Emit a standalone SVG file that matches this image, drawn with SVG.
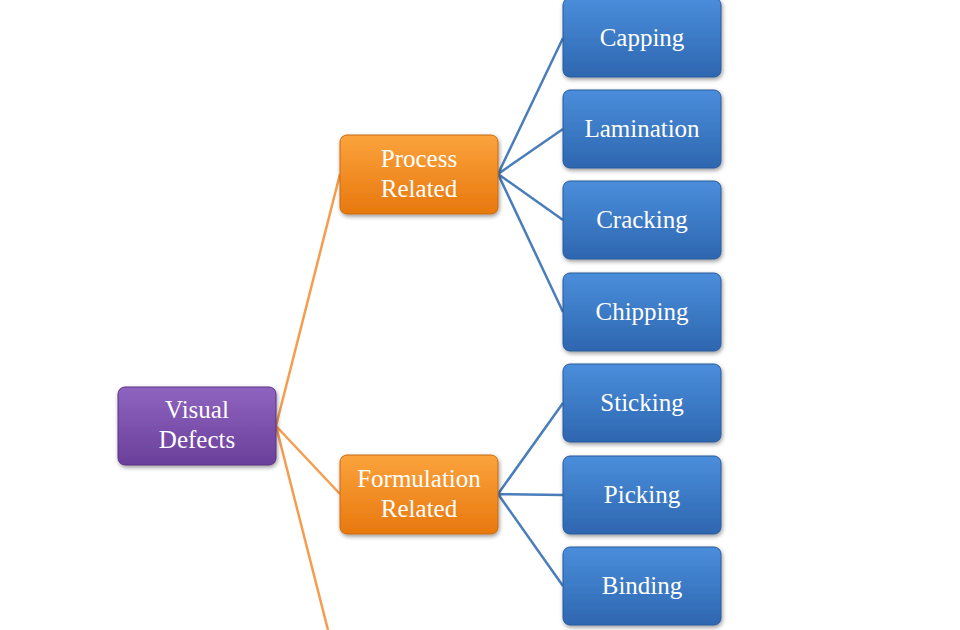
<svg xmlns="http://www.w3.org/2000/svg" width="960" height="630" viewBox="0 0 960 630">
<style>
text{font-family:"Liberation Serif","Times New Roman",serif;font-size:25px;fill:#fff;text-anchor:middle}
.o{stroke:#F59D4E;stroke-width:2.5;fill:none}
.b{stroke:#4A7EBB;stroke-width:2.5;fill:none}
rect{stroke-width:1;filter:url(#sh)}
</style>
<defs>
<linearGradient id="gp" x1="0" y1="0" x2="0" y2="1"><stop offset="0" stop-color="#8E64C0"/><stop offset="1" stop-color="#6A3F9A"/></linearGradient>
<linearGradient id="go" x1="0" y1="0" x2="0" y2="1"><stop offset="0" stop-color="#FBA33C"/><stop offset="1" stop-color="#E8780E"/></linearGradient>
<linearGradient id="gb" x1="0" y1="0" x2="0" y2="1"><stop offset="0" stop-color="#4A8EDB"/><stop offset="1" stop-color="#2E66B0"/></linearGradient>
<filter id="sh" x="-10%" y="-10%" width="130%" height="130%"><feDropShadow dx="1" dy="2" stdDeviation="2" flood-opacity="0.4"/></filter>
</defs>
<g id="connectors">
<path class="o" d="M276 426L340 174M276 426L340 494M276 426L328 630"/>
<path class="b" d="M498 174L563 38M498 174L563 129M498 174L563 220M498 174L563 312M498 494L563 403M498 494L563 495M498 494L563 586"/>
</g>
<g id="visual"><rect x="118" y="387" width="158" height="78" rx="7" fill="url(#gp)" stroke="#5a3585"/><text x="197" y="418">Visual</text><text x="197" y="448">Defects</text></g>
<g id="process"><rect x="340" y="135" width="158" height="79" rx="7" fill="url(#go)" stroke="#c96a10"/><text x="419" y="167">Process</text><text x="419" y="197">Related</text></g>
<g id="formulation"><rect x="340" y="455" width="158" height="79" rx="7" fill="url(#go)" stroke="#c96a10"/><text x="419" y="487">Formulation</text><text x="419" y="517">Related</text></g>
<g id="capping"><rect x="563" y="-2" width="158" height="79" rx="7" fill="url(#gb)" stroke="#2a5a9a"/><text x="642" y="46">Capping</text></g>
<g id="lamination"><rect x="563" y="90" width="158" height="78" rx="7" fill="url(#gb)" stroke="#2a5a9a"/><text x="642" y="137">Lamination</text></g>
<g id="cracking"><rect x="563" y="181" width="158" height="78" rx="7" fill="url(#gb)" stroke="#2a5a9a"/><text x="642" y="228">Cracking</text></g>
<g id="chipping"><rect x="563" y="273" width="158" height="78" rx="7" fill="url(#gb)" stroke="#2a5a9a"/><text x="642" y="320">Chipping</text></g>
<g id="sticking"><rect x="563" y="364" width="158" height="78" rx="7" fill="url(#gb)" stroke="#2a5a9a"/><text x="642" y="411">Sticking</text></g>
<g id="picking"><rect x="563" y="456" width="158" height="78" rx="7" fill="url(#gb)" stroke="#2a5a9a"/><text x="642" y="503">Picking</text></g>
<g id="binding"><rect x="563" y="547" width="158" height="78" rx="7" fill="url(#gb)" stroke="#2a5a9a"/><text x="642" y="594">Binding</text></g>
</svg>
